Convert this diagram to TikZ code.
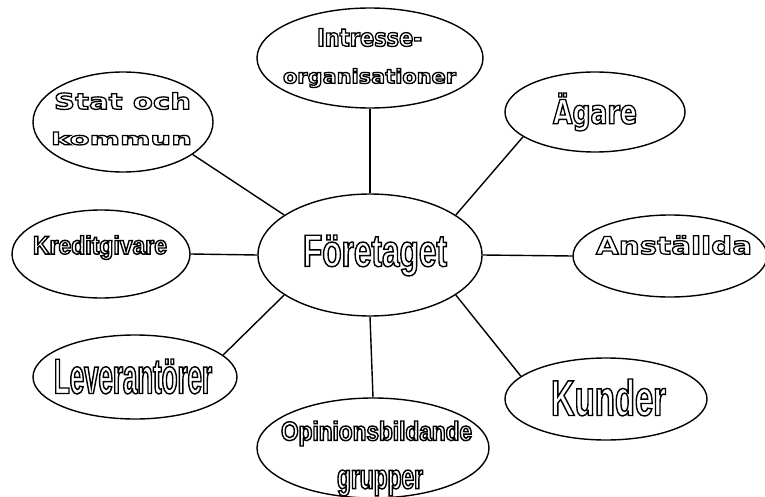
\documentclass[tikz,border=0pt]{standalone}
\usepackage{fontspec}
\usetikzlibrary{shapes.geometric}
\newfontfamily\narrowfont{Liberation Sans}
\newfontfamily\widefont{DejaVu Sans}
\newcommand{\nf}{\narrowfont\def\mylw{1.4}}
\newcommand{\wf}{\widefont\def\mylw{1.3}}
\newcommand{\otx}[4]{%
  \sbox0{#1\bfseries\fontsize{10pt}{10pt}\selectfont #4}%
  \pgfmathsetmacro\myhs{#3/((\ht0+\dp0)/1pt)}%
  \pgfmathsetmacro\myws{#2/(\wd0/1pt)}%
  \pgfmathsetmacro\mysz{10*\myhs}%
  \pgfmathsetmacro\myst{\myws/\myhs}%
  {#1\bfseries\fontsize{\mysz pt}{\mysz pt}\selectfont\addfontfeatures{FakeStretch=\myst}%
   \color{white}\special{pdf:literal direct 2 Tr \mylw\space w 0 G}#4\special{pdf:literal direct 0 Tr}}}
\begin{document}
\begin{tikzpicture}[x=1pt,y=-1pt,
  ell/.style={draw, ellipse, line width=1.4pt, inner sep=0pt},
  con/.style={line width=1.4pt},
  lbl/.style={inner sep=0pt}]
\useasboundingbox (0,0) rectangle (765,497);
\clip (0,0) rectangle (765,497);
% ellipses
\node[ell, minimum width=224pt, minimum height=122pt] (F) at (370,255) {};
\node[ell, minimum width=226pt, minimum height=100pt] (I) at (370,58) {};
\node[ell, minimum width=180pt, minimum height=100pt] (S) at (123,122) {};
\node[ell, minimum width=180pt, minimum height=80pt] (A) at (595,112) {};
\node[ell, minimum width=194pt, minimum height=82pt] (N) at (670,256) {};
\node[ell, minimum width=178pt, minimum height=88pt] (K) at (101,254) {};
\node[ell, minimum width=204pt, minimum height=84pt] (L) at (135,377) {};
\node[ell, minimum width=202pt, minimum height=82pt] (U) at (606,399) {};
\node[ell, minimum width=232pt, minimum height=100pt] (O) at (373,448) {};
% connectors
\draw[con] (I.south) -- (F.north);
\draw[con] (F.south) -- (O.north);
\draw[con] (K.east) -- (F.west);
\draw[con] (F.east) -- (N.west);
\draw[con] (S.-25) -- (F.155);
\draw[con] (A.-161) -- (F.25);
\draw[con] (L.14) -- (F.205);
\draw[con] (U.165) -- (F.-25);
% texts
\node[lbl] (tF) at (375,255.5) {\otx{\nf}{144}{41}{Företaget}};
\node[lbl] (tI1) at (369.5,37.5) {\otx{\wf}{105}{18}{Intresse-}};
\node[lbl] (tI2) at (369.5,78) {\otx{\wf}{173}{19}{organisationer}};
\node[lbl] (tS1) at (122.5,101) {\otx{\wf}{137}{17}{Stat och}};
\node[lbl] (tS2) at (121.5,138.5) {\otx{\wf}{141}{13}{kommun}};
\node[lbl] (tA) at (595,112) {\otx{\wf}{84}{38}{Ägare}};
\node[lbl] (tN) at (674,245) {\otx{\wf}{156}{19}{Anställda}};
\node[lbl] (tK) at (100,247.5) {\otx{\nf}{134}{24}{Kreditgivare}};
\node[lbl] (tL) at (133,376.5) {\otx{\nf}{158}{35}{Leverantörer}};
\node[lbl] (tU) at (608.5,397.5) {\otx{\nf}{115}{37}{Kunder}};
\node[lbl] (tO1) at (376.5,433.5) {\otx{\nf}{191}{25}{Opinionsbildande}};
\node[lbl] (tO2) at (380,483) {\otx{\nf}{86}{26}{grupper}};
\end{tikzpicture}
\end{document}
